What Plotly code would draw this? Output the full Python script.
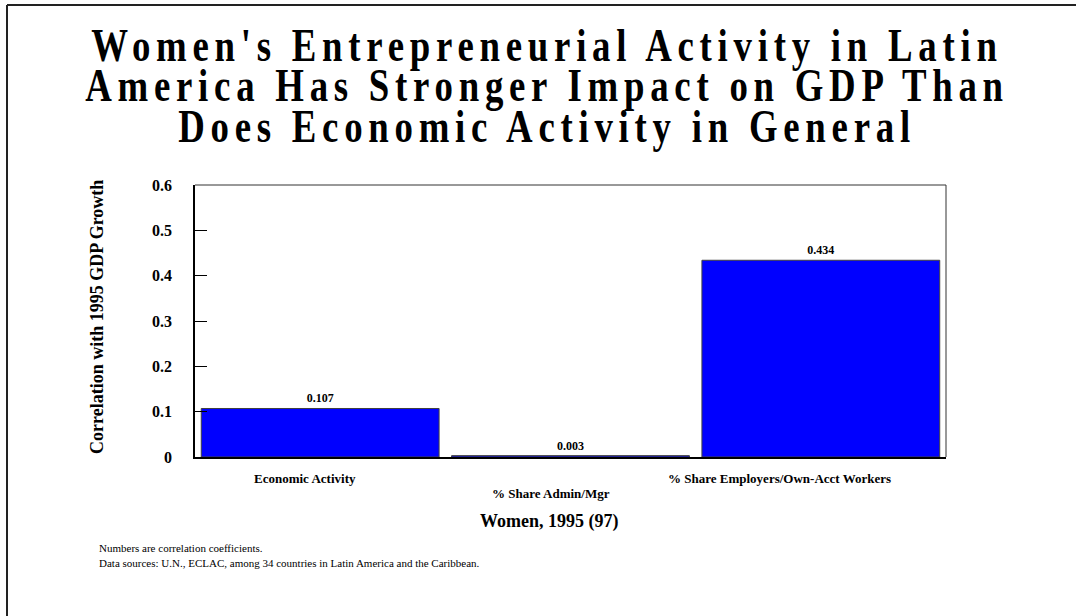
import plotly.graph_objects as go

# Correlation of women's indicators with 1995 GDP growth
categories = ["Economic Activity", "% Share Admin/Mgr", "% Share Employers/Own-Acct Workers"]
correlations = [0.107, 0.003, 0.434]
value_labels = ["0.107", "0.003", "0.434"]
label_shift = [-15, -20, -41]   # horizontal nudge of each category caption
label_row = [0, 1, 0]           # staggered caption rows
y_ticks = [0, 0.1, 0.2, 0.3, 0.4, 0.5, 0.6]
y_tick_text = ["0", "0.1", "0.2", "0.3", "0.4", "0.5", "0.6"]

title_lines = ["Women's Entrepreneurial Activity in Latin",
               "America Has Stronger Impact on GDP Than",
               "Does Economic Activity in General"]
y_title = "Correlation with 1995 GDP Growth"
x_title = "Women, 1995 (97)"
notes = ["Numbers are correlation coefficients.",
         "Data sources: U.N., ECLAC, among 34 countries in Latin America and the Caribbean."]

W, H = 1076, 616
ML, MR, MT, MB = 195, 130, 185, 159
PW, PH = W - ML - MR, H - MT - MB
SERIF = "Liberation Serif, Times New Roman, serif"


def px(x):
    return (x - ML) / PW


def py(y):
    return (H - MB - y) / PH


fig = go.Figure()
fig.add_trace(go.Bar(
    x=categories,
    y=correlations,
    text=value_labels,
    textposition="outside",
    textfont=dict(family=SERIF, size=12, color="black", weight="bold"),
    marker=dict(color="#0000FF", line=dict(color="#404040", width=1)),
    cliponaxis=False,
    width=0.95,
))

annotations = [
    # headline (annotation index 0)
    dict(
        x=px(544), y=py(17.5), xref="paper", yref="paper",
        text="<br>".join(title_lines), showarrow=False,
        xanchor="center", yanchor="top", align="center",
        font=dict(family=SERIF, size=46, color="black", weight="bold"),
    )
]
for cat, dx, row in zip(categories, label_shift, label_row):
    annotations.append(dict(
        x=cat, xref="x", y=py(478 + 15 * row), yref="paper",
        text=cat, showarrow=False, xshift=dx, yanchor="middle",
        font=dict(family=SERIF, size=13, color="black", weight="bold"),
    ))
annotations.append(dict(
    x=px(549), y=py(521), xref="paper", yref="paper", text=x_title,
    showarrow=False, yanchor="middle",
    font=dict(family=SERIF, size=18, color="black", weight="bold"),
))
annotations.append(dict(
    x=px(97), y=py(317), xref="paper", yref="paper", text=y_title,
    showarrow=False, textangle=-90, xanchor="center", yanchor="middle",
    font=dict(family=SERIF, size=18, color="black", weight="bold"),
))
for i, note in enumerate(notes):
    annotations.append(dict(
        x=px(97), y=py(548 + 15 * i), xref="paper", yref="paper", text=note,
        showarrow=False, xanchor="left", yanchor="middle",
        font=dict(family=SERIF, size=11, color="black"),
    ))

shapes = [
    # outer slide frame
    dict(type="line", xref="paper", yref="paper", x0=px(7), x1=px(W + 5),
         y0=py(5), y1=py(5), line=dict(color="#222222", width=2)),
    dict(type="line", xref="paper", yref="paper", x0=px(7), x1=px(7),
         y0=py(5), y1=py(H + 5), line=dict(color="#222222", width=2)),
    # top and right edges of the plot frame
    dict(type="line", xref="paper", yref="paper", x0=0, x1=1, y0=1, y1=1,
         line=dict(color="#333333", width=1)),
    dict(type="line", xref="paper", yref="paper", x0=1, x1=1, y0=0, y1=1,
         line=dict(color="#333333", width=1)),
]

fig.update_layout(
    width=W, height=H,
    margin=dict(l=ML, r=MR, t=MT, b=MB, pad=0),
    paper_bgcolor="white", plot_bgcolor="white",
    showlegend=False,
    bargap=0.05,
    xaxis=dict(
        showticklabels=False, ticks="", showgrid=False, zeroline=False,
        showline=True, linecolor="black", linewidth=2,
        range=[-0.5, 2.5],
    ),
    yaxis=dict(
        range=[0, 0.6], tickvals=y_ticks, ticktext=y_tick_text,
        ticks="inside", ticklen=12, tickcolor="black", tickwidth=1,
        showgrid=False, zeroline=False,
        showline=True, linecolor="black", linewidth=1.5,
        tickfont=dict(family=SERIF, size=16, color="black", weight="bold"),
        ticklabelstandoff=18,
    ),
    annotations=annotations,
    shapes=shapes,
)

# Headline typography: tight line pitch, narrow glyphs, open letter spacing.
post_js = """
var gd = document.getElementById('{plot_id}');
function condenseHeadline() {
  var g = gd.querySelector('g.annotation[data-index="0"]');
  if (!g) return;
  var t = g.querySelector('text.annotation-text');
  if (!t) return;
  var cx = parseFloat(t.getAttribute('x')) || 0;
  t.querySelectorAll('tspan.line').forEach(function (s, i) {
    s.setAttribute('dy', (i * 0.876) + 'em');
  });
  t.style.letterSpacing = '7.2px';
  t.setAttribute('transform', 'translate(' + (cx + 3) + ',0) scale(0.8,1) translate(' + (-cx) + ',0)');
}
condenseHeadline();
gd.on('plotly_afterplot', condenseHeadline);
"""

fig.write_html("out.html", post_script=post_js)
